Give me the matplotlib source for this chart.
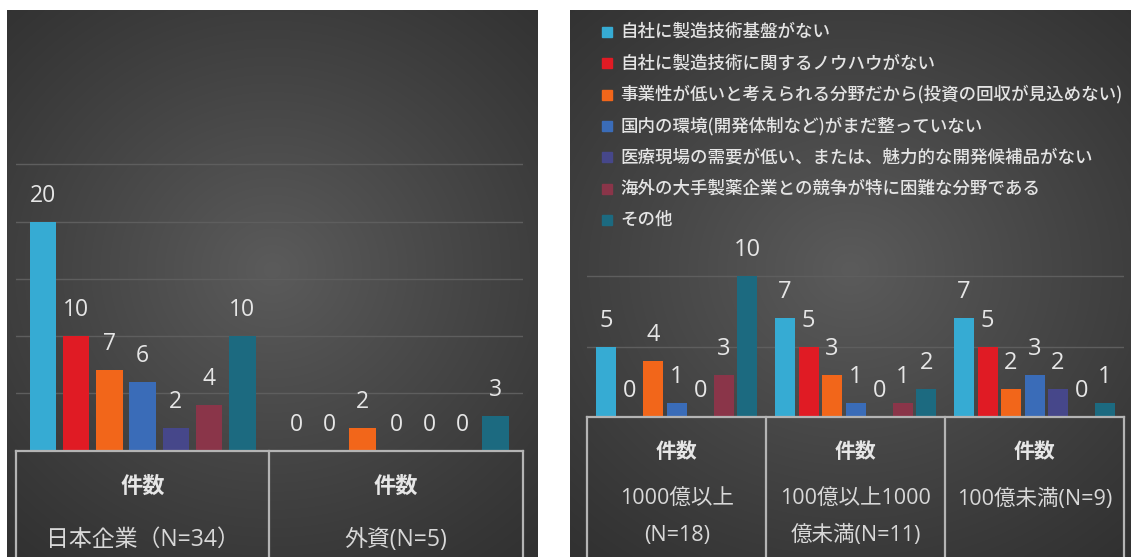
import numpy as np
import matplotlib
matplotlib.use("Agg")
import matplotlib.pyplot as plt
from matplotlib import transforms
from matplotlib.patches import Rectangle

# ---- data -------------------------------------------------------------
reasons = [
    "自社に製造技術基盤がない",
    "自社に製造技術に関するノウハウがない",
    "事業性が低いと考えられる分野だから(投資の回収が見込めない)",
    "国内の環境(開発体制など)がまだ整っていない",
    "医療現場の需要が低い、または、魅力的な開発候補品がない",
    "海外の大手製薬企業との競争が特に困難な分野である",
    "その他",
]
colors = ["#36abd3", "#e01b24", "#f2661a", "#3a6cb8", "#46478a", "#8a3549", "#1c6a80"]

# capital origin
origin_groups = ["日本企業（N=34）", "外資(N=5)"]
japan = [20, 10, 7, 6, 2, 4, 10]
foreign = [0, 0, 2, 0, 0, 0, 3]

# company size (sales)
size_groups = ["1000億以上\n(N=18)", "100億以上1000\n億未満(N=11)", "100億未満(N=9)"]
size_large = [5, 0, 4, 1, 0, 3, 10]
size_mid = [7, 5, 3, 1, 0, 1, 2]
size_small = [7, 5, 2, 3, 2, 0, 1]

header = "件数"

# ---- layout helpers ----------------------------------------------------
W, H = 1131, 557
fig = plt.figure(figsize=(W / 100, H / 100), dpi=100, facecolor="white")

JP = ["Noto Sans CJK JP", "DejaVu Sans"]
MIX = ["Open Sans", "Noto Sans CJK JP"]
NUM = ["Open Sans", "Noto Sans CJK JP"]
TXT = "#e6e6e6"
LINE = "#b4b4b4"


def rect_px(x0, y0, x1, y1):
    return [x0 / W, 1 - y1 / H, (x1 - x0) / W, (y1 - y0) / H]


def fy(y):
    return 1 - y / H


def panel(x0, y0, x1, y1):
    ax = fig.add_axes(rect_px(x0, y0, x1, y1))
    yy, xx = np.mgrid[-1:1:300j, -1:1:400j]
    r = np.sqrt((xx * 0.95) ** 2 + ((yy + 0.05) * 1.05) ** 2)
    shade = np.clip(1 - r / 1.5, 0, 1) ** 1.1
    lo, hi = 0x30 / 255, 0x5b / 255
    img = lo + (hi - lo) * shade
    ax.imshow(np.dstack([img] * 3), extent=[0, 1, 0, 1], aspect="auto",
              interpolation="bicubic")
    ax.set_xlim(0, 1)
    ax.set_ylim(0, 1)
    ax.axis("off")
    return ax


def bar_axes(x0, x1, base, top, px_per_unit, grid):
    ax = fig.add_axes(rect_px(x0, top, x1, base))
    ax.set_facecolor("none")
    ax.set_ylim(0, (base - top) / px_per_unit)
    for s in ax.spines.values():
        s.set_visible(False)
    ax.set_yticks(grid)
    ax.set_yticklabels([])
    ax.set_xticks([])
    ax.tick_params(length=0)
    ax.yaxis.grid(True, color="#5e5e5e", lw=1)
    ax.set_axisbelow(True)
    return ax


def draw_groups(ax, groups, width, fs):
    n = len(groups[0])
    pitch = 0.1313
    x = np.arange(len(groups))
    ax.set_xlim(-0.5, len(groups) - 0.5)
    for j in range(n):
        vals = [g[j] for g in groups]
        pos = x + (j - (n - 1) / 2) * pitch
        bars = ax.bar(pos, vals, width, color=colors[j], zorder=3, label=reasons[j])
        for b, v in zip(bars, vals):
            ax.annotate(str(v), (b.get_x() + b.get_width() / 2, v),
                        xytext=(0, 18.7), textcoords="offset points",
                        ha="center", va="center", color=TXT, fontsize=fs,
                        family=NUM, annotation_clip=False)


def draw_table(ax, n, base_px):
    tr = transforms.blended_transform_factory(ax.transData, fig.transFigure)
    ax.plot([-0.5, n - 0.5], [fy(base_px)] * 2, color=LINE, lw=1.6,
            transform=tr, clip_on=False, zorder=4)
    for k in range(n + 1):
        ax.plot([k - 0.5] * 2, [0, fy(base_px)], color=LINE, lw=1.6,
                transform=tr, clip_on=False, zorder=4)
    return tr


# ---- left panel: by capital origin --------------------------------------
panel(7, 10, 538, 557)
axL = bar_axes(16, 522.6, 450.5, 10, 11.45, [5, 10, 15, 20, 25])
draw_groups(axL, [japan, foreign], 0.105, 16.5)
trL = draw_table(axL, 2, 450.5)
for i, name in enumerate(origin_groups):
    axL.text(i, fy(486), header, transform=trL, ha="center", va="center",
             color=TXT, fontsize=16, family=JP, weight="bold")
    axL.text(i, fy(540), name, transform=trL, ha="center", va="center",
             color="#d8d8d8", fontsize=16.5, family=MIX)

# ---- right panel: by company size ---------------------------------------
pR = panel(570, 10, 1131, 557)
axR = bar_axes(587.3, 1124, 417.3, 240, 14.13, [5, 10])
draw_groups(axR, [size_large, size_mid, size_small], 0.112, 17)
trR = draw_table(axR, 3, 417.3)
for i, name in enumerate(size_groups):
    axR.text(i, fy(451), header, transform=trR, ha="center", va="center",
             color=TXT, fontsize=15, family=JP, weight="bold")
    for k, line in enumerate(name.split("\n")):
        axR.text(i, fy(499.5 + 35.7 * k), line, transform=trR, ha="center",
                 va="center", color="#d8d8d8", fontsize=15.5, family=MIX)

# legend drawn across the top of the right panel
for j, (lab, c) in enumerate(zip(reasons, colors)):
    yc = 31.7 + 31.4 * j
    pR.add_patch(Rectangle((602 / W, fy(yc + 5)), 10 / W, 10 / H,
                           transform=fig.transFigure, color=c, zorder=5))
    pR.text(620.5 / W, fy(yc), lab, transform=fig.transFigure, ha="left",
            va="center", color="#e4e4e4", fontsize=12.6, family=JP,
            weight="medium", clip_on=True, zorder=5)

fig.savefig("out.png", dpi=100, facecolor="white")
